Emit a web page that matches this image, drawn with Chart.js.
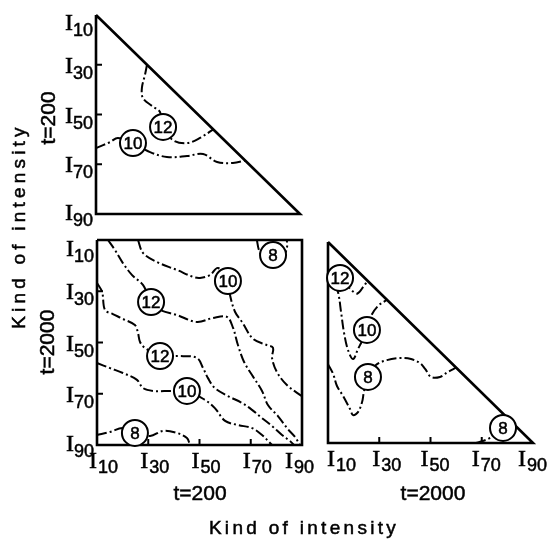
<!DOCTYPE html>
<html>
<head>
<meta charset="utf-8">
<script src="https://cdn.jsdelivr.net/npm/chart.js@4.4.0/dist/chart.umd.min.js"></script>
<style>
  html, body { margin: 0; padding: 0; background: #fff; }
  #wrap { position: relative; width: 550px; height: 543px; overflow: hidden; background: #fff; }
  #wrap canvas { position: absolute; left: 0; top: 0; }
</style>
</head>
<body>
<div id="wrap">
  <canvas id="panelTop" width="550" height="543"></canvas>
  <canvas id="panelMid" width="550" height="543"></canvas>
  <canvas id="panelRight" width="550" height="543"></canvas>
</div>
<script>
// intensity classes I10 .. I90 on every axis
const intensityTicks = [10, 30, 50, 70, 90];
const innerTicks = [30, 50, 70];

// panel outlines
const triangle = [[10, 10], [10, 90], [90, 90], [10, 10]];
const square = [[10, 10], [90, 10], [90, 90], [10, 90], [10, 10]];

// t=200 against t=200
const topLevel12 = [[30, 30], [29.2, 34.1], [28, 39.3], [28.4, 43.4], [32, 46.6], [35.1, 49], [36.3, 55], [40.2, 60.3], [45.7, 61.5], [50.8, 59.4], [56, 56]];
const topLevel10 = [[10, 63.5], [15.5, 61.1], [18.6, 59.4], [24.5, 61.5], [31.2, 65.1], [37.8, 67.1], [45.7, 66.7], [52, 65.9], [57.5, 69.1], [63.7, 69.5], [68.5, 68.5]];
const topLabels = [[36.3, 55, 12], [24.5, 61.5, 10]];

// t=200 (x) against t=2000 (y)
const midLevel12a = [[14.3, 10], [17, 13.9], [20.1, 19], [23.7, 23.7], [28, 27.6], [31.1, 34.2], [34.6, 37.3], [41.2, 39.3], [49, 42], [55.3, 40.4], [60.7, 40], [63.1, 44.3], [65, 51], [67.4, 57.6], [70.5, 62.7], [74.4, 68.9], [76.7, 74.4], [80.6, 78.7], [84.5, 83.8], [87.3, 86.9], [89.2, 90]];
const midLevel12b = [[10, 26.8], [12, 30.3], [13.1, 37.3], [16.2, 38.9], [20.1, 40.8], [24.8, 43.2], [26, 46.3], [26.8, 49.8], [28.7, 52.1], [34.6, 55.3], [42.4, 55.3], [49, 56], [51.4, 60], [53.3, 63.9], [56, 67.8], [61.1, 70.9], [66.6, 73.6], [70.5, 76.3], [74.4, 79.5], [78.3, 82.6], [82.2, 86.1], [85.3, 88.4], [86.9, 90]];
const midLevel10a = [[26, 10], [28, 15.1], [33.4, 18.6], [41.2, 21.7], [47.5, 24.4], [50.2, 24.8], [54.1, 23.7], [57.2, 20.9], [61.1, 26], [61.9, 31.5], [63.9, 38.1], [66.6, 42], [70.9, 48.6], [76.3, 51], [78.7, 52.1], [78.3, 56], [80.2, 61.5], [84.1, 66.6], [90, 71]];
const midLevel10b = [[10, 58], [15.1, 60], [20.1, 61.9], [25.6, 64.6], [28, 67.8], [31.9, 68.9], [38.5, 68.9], [45.1, 68.9], [52.1, 72.4], [56, 75.6], [60, 80.6], [65, 82.2], [70.5, 83.4], [74.4, 86.1], [78.3, 90]];
const midLevel8a = [[10, 86.1], [15.1, 84.9], [20.1, 83.4], [24.8, 85.3], [30.7, 86.5], [35.8, 84.5], [41.2, 85.3], [45.1, 87.3], [46.3, 90]];
const midLevel8b = [[72.4, 10], [73.2, 13.9], [75.2, 17], [78.7, 15.9], [82.6, 16.2], [84.1, 13.1], [84.1, 10]];
const midLabels = [[31.1, 34.2, 12], [34.6, 55.3, 12], [61.1, 26, 10], [45.1, 68.9, 10], [24.8, 85.3, 8], [78.7, 15.9, 8]];

// t=2000 against t=2000
const rightLevel12 = [[10, 22], [14.7, 24.3], [19.5, 29.5], [21.5, 30.5], [24, 27.5], [25.5, 25.5]];
const rightLevel10 = [[12.5, 27], [13.9, 29.9], [15.1, 37.9], [16.2, 45.8], [17.8, 53], [19.8, 56.6], [21.7, 52.6], [23.3, 49.4], [25.2, 45], [26.8, 39.5], [29.5, 35.5], [33, 33]];
const rightLevel8a = [[10, 58.6], [12, 62.5], [13.5, 67.3], [15.9, 71.3], [18.6, 76.5], [19.8, 78.9], [21.7, 77.7], [23.3, 73.7], [24, 69.7], [25.6, 63.7], [28.7, 59], [33, 57], [38.1, 56.2], [42.4, 56.6], [45.9, 58.2], [47.9, 60.5], [50.2, 63.7], [53.7, 63.7], [56.8, 61.7], [60, 60]];
const rightLevel8b = [[67.8, 90], [73.2, 88], [78.3, 84], [82, 82]];
const rightLabels = [[14.7, 24.3, 12], [25.2, 45, 10], [25.6, 63.7, 8], [78.3, 84, 8]];

const I_FONT = '24px "Liberation Serif"';
const SUB_FONT = '18px "Liberation Sans"';
const TITLE_FONT = '21px "Liberation Sans"';
const AXIS_FONT = '19px "Liberation Sans"';

function toXY(points) {
    return points.map(p => ({ x: p[0], y: p[1] }));
}

function contour(points) {
    return {
        data: toXY(points),
        showLine: true,
        borderColor: '#000',
        borderWidth: 2,
        borderDash: [10, 3, 2, 3],
        tension: 0.35,
        pointRadius: 0,
        clip: false,
        order: 2
    };
}

function outline(points) {
    return {
        data: toXY(points),
        showLine: true,
        borderColor: '#000',
        borderWidth: 2.6,
        tension: 0,
        pointRadius: 0,
        clip: false,
        order: 1
    };
}

function levelMarks(labels) {
    return {
        levelMarks: true,
        data: labels.map(l => ({ x: l[0], y: l[1], level: l[2] })),
        showLine: false,
        pointRadius: 13,
        pointBackgroundColor: '#fff',
        pointBorderColor: '#000',
        pointBorderWidth: 2,
        clip: false,
        order: 0
    };
}

function strokeLine(ctx, x1, y1, x2, y2) {
    ctx.beginPath();
    ctx.moveTo(x1, y1);
    ctx.lineTo(x2, y2);
    ctx.stroke();
}

// filled text with a thin outline so it reads a little heavier
function heavyText(ctx, text, x, y) {
    ctx.fillText(text, x, y);
    ctx.strokeText(text, x, y);
}

// ticks, I-labels, circle values and titles for one panel
function makeDecor(cfg) {
    return {
        id: 'decor',
        afterDatasetsDraw(chart) {
            const ctx = chart.ctx;
            const xs = chart.scales.x, ys = chart.scales.y;
            const area = chart.chartArea;
            ctx.save();
            ctx.fillStyle = '#000';
            ctx.strokeStyle = '#000';
            ctx.lineWidth = 0.5;

            // level value inside each circle
            ctx.font = '17px "Liberation Sans"';
            ctx.textAlign = 'center';
            ctx.textBaseline = 'middle';
            chart.data.datasets.forEach((ds, i) => {
                if (!ds.levelMarks) return;
                chart.getDatasetMeta(i).data.forEach((pt, j) => {
                    heavyText(ctx, String(ds.data[j].level), pt.x, pt.y + 1);
                });
            });

            // short ticks pointing inward
            ctx.lineWidth = 2;
            if (cfg.leftTicks) innerTicks.forEach(v => {
                const y = ys.getPixelForValue(v);
                strokeLine(ctx, area.left, y, area.left + 6, y);
            });
            if (cfg.bottomTicks) innerTicks.forEach(v => {
                const x = xs.getPixelForValue(v);
                strokeLine(ctx, x, area.bottom, x, area.bottom - 6);
            });

            ctx.lineWidth = 0.5;
            ctx.textAlign = 'left';
            ctx.textBaseline = 'alphabetic';
            if (cfg.leftShift) intensityTicks.forEach((v, i) => {
                const y = ys.getPixelForValue(v) + cfg.leftShift[i];
                ctx.font = SUB_FONT;
                const w = ctx.measureText(String(v)).width;
                const x0 = area.left - 3 - w;
                heavyText(ctx, String(v), x0, y + 14);
                ctx.font = I_FONT;
                const wi = ctx.measureText('I').width;
                heavyText(ctx, 'I', x0 - wi, y + 8);
            });
            if (cfg.bottomShift) intensityTicks.forEach((v, i) => {
                const x = xs.getPixelForValue(v) - 8 + cfg.bottomShift[i];
                ctx.font = I_FONT;
                const wi = ctx.measureText('I').width;
                heavyText(ctx, 'I', x, area.bottom + 23);
                ctx.font = SUB_FONT;
                heavyText(ctx, String(v), x + wi + 1, area.bottom + 28);
            });

            (cfg.titles || []).forEach(t => {
                ctx.save();
                ctx.translate(t.x, t.y);
                if (t.vertical) ctx.rotate(-Math.PI / 2);
                ctx.font = t.font || TITLE_FONT;
                ctx.letterSpacing = t.spacing || '0px';
                ctx.textAlign = 'center';
                ctx.textBaseline = 'middle';
                heavyText(ctx, t.text, 0, 0);
                ctx.restore();
            });
            ctx.restore();
        }
    };
}

function panel(id, padding, datasets, decor) {
    return new Chart(document.getElementById(id), {
        type: 'scatter',
        data: { datasets: datasets },
        options: {
            responsive: false,
            animation: false,
            devicePixelRatio: 1,
            events: [],
            layout: { padding: padding },
            plugins: { legend: { display: false }, tooltip: { enabled: false } },
            scales: {
                x: { type: 'linear', min: 10, max: 90, display: false },
                y: { type: 'linear', min: 10, max: 90, reverse: true, display: false }
            }
        },
        plugins: [makeDecor(decor)]
    });
}

panel('panelTop', { left: 96, top: 15, right: 250, bottom: 329 },
    [outline(triangle), contour(topLevel12), contour(topLevel10), levelMarks(topLabels)],
    {
        leftTicks: true,
        leftShift: [7, 0, 0, 0, -2],
        titles: [{ text: 't=200', x: 49, y: 118, vertical: true }]
    });

panel('panelMid', { left: 97, top: 240, right: 248, bottom: 98 },
    [outline(square), contour(midLevel12a), contour(midLevel12b), contour(midLevel10a),
     contour(midLevel10b), contour(midLevel8a), contour(midLevel8b), levelMarks(midLabels)],
    {
        leftTicks: true,
        bottomTicks: true,
        leftShift: [8, 0, 0, 0, -2],
        bottomShift: [0, 0, 0, 0, -9],
        titles: [
            { text: 't=2000', x: 48, y: 342, vertical: true },
            { text: 't=200', x: 200, y: 494 },
            { text: 'Kind of intensity', x: 304, y: 529, spacing: '3.3px', font: AXIS_FONT },
            { text: 'Kind of intensity', x: 20, y: 226, vertical: true, spacing: '4.2px', font: AXIS_FONT }
        ]
    });

panel('panelRight', { left: 328, top: 242, right: 17, bottom: 100 },
    [outline(triangle), contour(rightLevel12), contour(rightLevel10), contour(rightLevel8a),
     contour(rightLevel8b), levelMarks(rightLabels)],
    {
        bottomTicks: true,
        bottomShift: [7, 1, -2, -2, -7],
        titles: [{ text: 't=2000', x: 433, y: 494 }]
    });
</script>
</body>
</html>
